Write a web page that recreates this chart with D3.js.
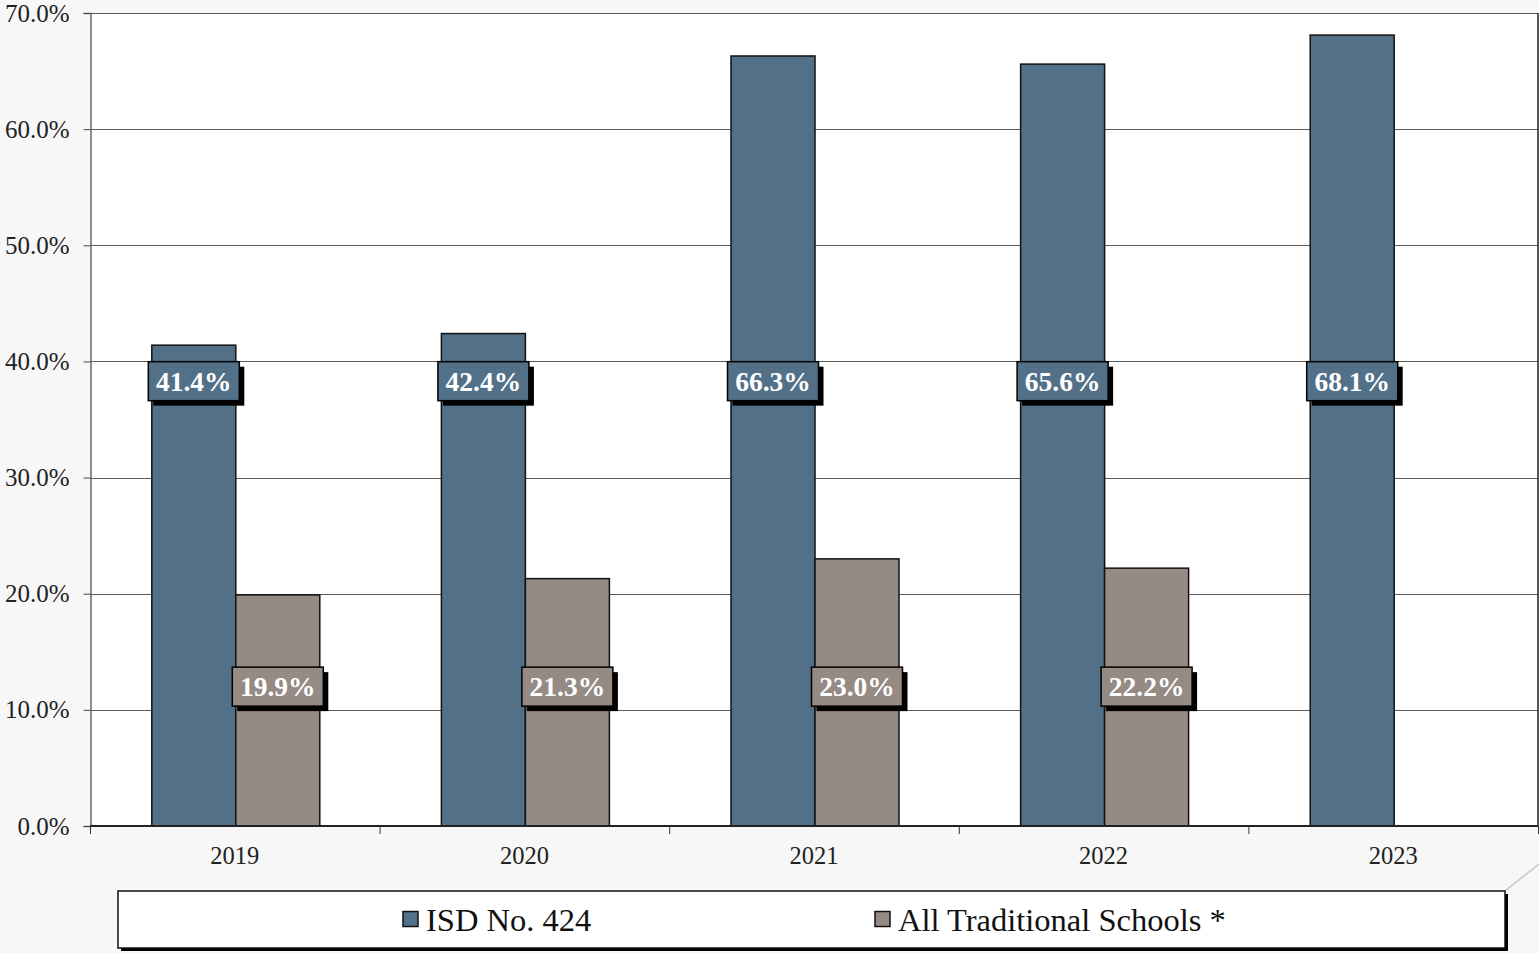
<!DOCTYPE html>
<html>
<head>
<meta charset="utf-8">
<script src="https://cdn.jsdelivr.net/npm/d3@7"></script>
<style>
  html, body { margin: 0; padding: 0; background: #f7f7f7; }
  svg { display: block; font-family: "Liberation Serif", "Times New Roman", serif; }
</style>
</head>
<body>
<svg id="chart" width="1539" height="953"></svg>
<script>
// Chart data
const years = ["2019", "2020", "2021", "2022", "2023"];
const seriesNames = ["ISD No. 424", "All Traditional Schools *"];
const isdValues = [41.4, 42.4, 66.3, 65.6, 68.1];
const traditionalValues = [19.9, 21.3, 23.0, 22.2, null];
const yTicks = [0, 10, 20, 30, 40, 50, 60, 70];
const seriesColors = ["#527189", "#958a84"];

const svg = d3.select("#chart");
const W = 1539, H = 953;
const plot = { left: 90, right: 1538, top: 13, bottom: 826 };

svg.append("rect").attr("width", W).attr("height", H).attr("fill", "#f7f7f7");

const y = d3.scaleLinear().domain([0, 70]).range([plot.bottom, plot.top]);
const x0 = d3.scaleBand().domain(years).range([plot.left, plot.right]).padding(0);
const x1 = d3.scaleBand().domain(seriesNames).range([1, x0.bandwidth() + 1])
  .paddingInner(0).paddingOuter(0.724);

// Plot area
svg.append("rect")
  .attr("x", plot.left).attr("y", plot.top)
  .attr("width", plot.right - plot.left).attr("height", plot.bottom - plot.top)
  .attr("fill", "#ffffff");

// Gridlines
svg.append("g").selectAll("line").data(yTicks.filter(d => d > 0)).join("line")
  .attr("x1", plot.left).attr("x2", plot.right)
  .attr("y1", d => Math.round(y(d)) + 0.5).attr("y2", d => Math.round(y(d)) + 0.5)
  .attr("stroke", "#5a5a5a").attr("stroke-width", 1);

// Y axis
const yAxis = svg.append("g")
  .attr("transform", `translate(${plot.left + 0.5},0)`)
  .call(d3.axisLeft(y).tickValues(yTicks).tickSize(7).tickPadding(14)
    .tickFormat(d => d.toFixed(1) + "%"));
yAxis.select(".domain").attr("stroke", "#6a6a6a").attr("stroke-width", 1.5);
yAxis.selectAll(".tick line").attr("stroke", "#4a4a4a");
yAxis.selectAll("text").attr("font-family", "Liberation Serif").attr("font-size", 25).attr("fill", "#222");

// Right border
svg.append("line").attr("x1", plot.right).attr("x2", plot.right)
  .attr("y1", plot.top).attr("y2", plot.bottom + 1)
  .attr("stroke", "#222").attr("stroke-width", 1.5);

// Bars
const rows = years.map((yr, i) => ({ year: yr, vals: [isdValues[i], traditionalValues[i]] }));
const groups = svg.append("g").selectAll("g").data(rows).join("g")
  .attr("transform", d => `translate(${x0(d.year)},0)`);

groups.selectAll("rect")
  .data(d => d.vals.map((v, k) => ({ v, k })).filter(e => e.v !== null))
  .join("rect")
  .attr("x", e => x1(seriesNames[e.k]))
  .attr("width", x1.bandwidth())
  .attr("y", e => y(e.v))
  .attr("height", e => y(0) - y(e.v))
  .attr("fill", e => seriesColors[e.k])
  .attr("stroke", "#111").attr("stroke-width", 1.5);

// X axis
const xAxis = svg.append("g")
  .attr("transform", `translate(0,${plot.bottom})`);
xAxis.append("line").attr("x1", plot.left).attr("x2", plot.right)
  .attr("stroke", "#222").attr("stroke-width", 2);
xAxis.selectAll("line.tk").data(years.map(d => x0(d)).concat([plot.right])).join("line")
  .attr("class", "tk")
  .attr("x1", d => d + 0.5).attr("x2", d => d + 0.5)
  .attr("y1", 0).attr("y2", 8)
  .attr("stroke", "#333").attr("stroke-width", 1);
xAxis.selectAll("text").data(years).join("text")
  .attr("x", d => x0(d) + x0.bandwidth() / 2)
  .attr("y", 38)
  .attr("text-anchor", "middle")
  .attr("font-size", 24.5).attr("fill", "#222")
  .text(d => d);

// Value labels (boxed, with drop shadow)
const labelLevels = [38.3, 12.0];
const boxW = 91, boxH = 39, shadow = 5;
const labels = groups.selectAll("g.lbl")
  .data(d => d.vals.map((v, k) => ({ v, k })).filter(e => e.v !== null))
  .join("g").attr("class", "lbl")
  .attr("transform", e => `translate(${x1(seriesNames[e.k]) + x1.bandwidth() / 2},${y(labelLevels[e.k])})`);
labels.append("rect")
  .attr("x", -boxW / 2 + shadow).attr("y", -boxH / 2 + shadow)
  .attr("width", boxW).attr("height", boxH).attr("fill", "#000");
labels.append("rect")
  .attr("x", -boxW / 2).attr("y", -boxH / 2)
  .attr("width", boxW).attr("height", boxH)
  .attr("fill", e => seriesColors[e.k])
  .attr("stroke", "#000").attr("stroke-width", 1.5);
labels.append("text")
  .attr("text-anchor", "middle").attr("dy", "0.35em")
  .attr("font-size", 27.5).attr("font-weight", "bold").attr("fill", "#ffffff")
  .text(e => e.v.toFixed(1) + "%");

// Legend
const lg = { x: 118, y: 891, w: 1387, h: 57 };
svg.append("line").attr("x1", lg.x + lg.w).attr("y1", lg.y)
  .attr("x2", W).attr("y2", 864).attr("stroke", "#c8c8c8").attr("stroke-width", 1.5);
svg.append("rect").attr("x", lg.x + 3).attr("y", lg.y + 3)
  .attr("width", lg.w).attr("height", lg.h).attr("fill", "#000");
svg.append("rect").attr("x", lg.x).attr("y", lg.y)
  .attr("width", lg.w).attr("height", lg.h)
  .attr("fill", "#fff").attr("stroke", "#111").attr("stroke-width", 1.5);
const legendX = [403, 875];
const li = svg.append("g").selectAll("g").data(seriesNames).join("g")
  .attr("transform", (d, i) => `translate(${legendX[i]},${lg.y + lg.h / 2})`);
li.append("rect").attr("x", 0).attr("y", -8).attr("width", 15).attr("height", 15)
  .attr("fill", (d, i) => seriesColors[i]).attr("stroke", "#111").attr("stroke-width", 1.5);
li.append("text").attr("x", 23).attr("dy", "0.35em")
  .attr("font-size", 32.5).attr("fill", "#111").text(d => d);
</script>
</body>
</html>
